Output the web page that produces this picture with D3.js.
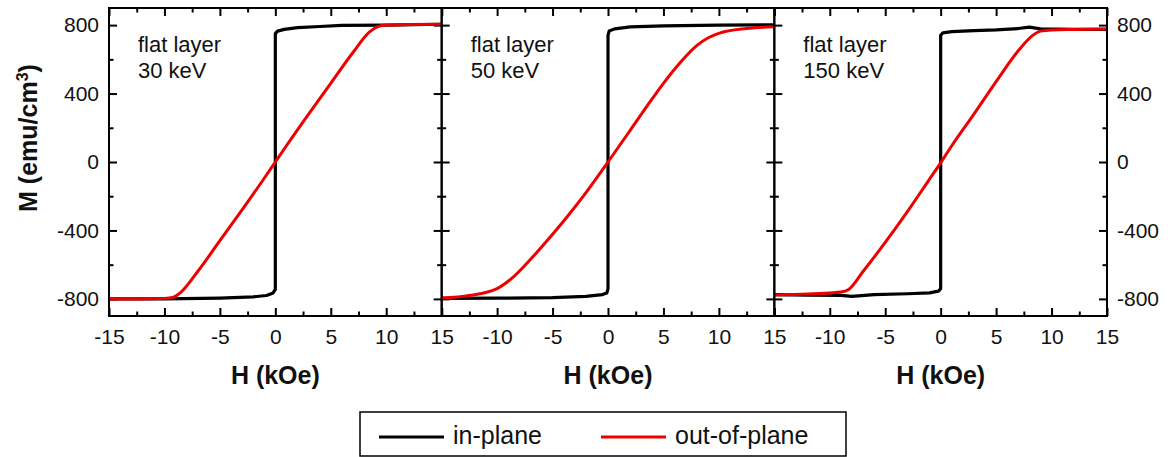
<!DOCTYPE html>
<html>
<head>
<meta charset="utf-8">
<script src="https://cdn.jsdelivr.net/npm/d3@7"></script>
<style>
  body { margin: 0; background: #fff; }
  svg { display: block; }
  text { font-family: Arial, 'Liberation Sans', sans-serif; fill: #111; }
</style>
</head>
<body>
<svg id="chart" width="1168" height="457"></svg>
<script>
// panel captions
const panelLabels = [['flat layer', '30 keV'], ['flat layer', '50 keV'], ['flat layer', '150 keV']];

// H (kOe), M (emu/cm3)
const inPlane30 = [[-15, -800], [-10, -800], [-5, -795], [-2, -788], [-0.8, -780], [-0.2, -765], [0, -745],
  [0, 750], [0.2, 765], [0.8, 775], [2, 785], [4, 792], [6, 798], [10, 800], [15, 805]];
const outPlane30 = [[-15, -800], [-12, -800], [-10, -797], [-9.2, -790], [-8.5, -760], [-7, -640], [-5, -460],
  [-3, -280], [-1, -95], [0, 0], [1, 95], [3, 280], [5, 460], [7, 640], [8.5, 760], [9.2, 790], [10, 800],
  [12, 803], [15, 805]];

const inPlane50 = [[-15, -797], [-10, -796], [-5, -793], [-2, -785], [-0.5, -775], [-0.1, -765], [0, -740],
  [0, 740], [0.1, 765], [0.6, 778], [2, 790], [5, 795], [10, 800], [15, 802]];
const outPlane50 = [[-15, -795], [-12.5, -780], [-10, -740], [-8.5, -670], [-7, -570], [-5.5, -460],
  [-3.5, -305], [-2, -180], [0, 0], [2, 185], [3.5, 325], [5, 460], [6.5, 580], [8, 680], [9, 725],
  [10, 752], [12.5, 780], [15, 790]];

const inPlane150 = [[-15, -775], [-12, -778], [-9, -780], [-8, -785], [-6, -775], [-3, -770], [-1, -765],
  [-0.2, -755], [0, -740], [0, 740], [0.2, 755], [1, 762], [3, 768], [5, 772], [7, 780], [8, 788],
  [9, 778], [12, 775], [15, 775]];
const outPlane150 = [[-15, -777], [-12, -772], [-10, -765], [-9, -760], [-8.3, -745], [-7, -640], [-5, -470],
  [-3, -290], [-1, -100], [0, -5], [1, 95], [3, 280], [5, 470], [7, 650], [8.3, 740], [9, 765],
  [10, 772], [12, 775], [15, 777]];

const inPlaneSets = [inPlane30, inPlane50, inPlane150];
const outPlaneSets = [outPlane30, outPlane50, outPlane150];

const xMajor = [-15, -10, -5, 0, 5, 10, 15];
const xMinor = [-12.5, -7.5, -2.5, 2.5, 7.5, 12.5];
const yMajor = [-800, -400, 0, 400, 800];
const yMinor = [-600, -200, 200, 600];

const legendItems = [{ name: 'in-plane', color: '#000' }, { name: 'out-of-plane', color: '#ee0000' }];

const plot = { left: 109, right: 1107, top: 8, bottom: 316 };
const panelW = (plot.right - plot.left) / 3;
const majorLen = 8;
const minorLen = 4.5;

const svg = d3.select('#chart');

const yScale = d3.scaleLinear()
  .domain([-900, 900])
  .range([plot.bottom, plot.top]);

panelLabels.forEach((lbl, i) => {
  const x0 = plot.left + i * panelW;
  const xScale = d3.scaleLinear()
    .domain([-15, 15])
    .range([x0, x0 + panelW]);

  const g = svg.append('g').attr('class', 'panel');

  // bottom axis with labels (the shared -15 is only written on the first panel)
  const gxb = g.append('g')
    .attr('transform', `translate(0,${plot.bottom})`)
    .call(d3.axisBottom(xScale).tickValues(xMajor).tickSize(-majorLen).tickPadding(13)
      .tickFormat(d => (i > 0 && d === -15 ? '' : String(d))));
  gxb.append('g')
    .call(d3.axisBottom(xScale).tickValues(xMinor).tickSize(-minorLen).tickFormat(''));
  // top axis, ticks only
  const gxt = g.append('g')
    .attr('transform', `translate(0,${plot.top})`)
    .call(d3.axisTop(xScale).tickValues(xMajor).tickSize(-majorLen).tickFormat(''));
  gxt.append('g')
    .call(d3.axisTop(xScale).tickValues(xMinor).tickSize(-minorLen).tickFormat(''));

  // left axis
  const gyl = g.append('g')
    .attr('transform', `translate(${x0},0)`)
    .call(d3.axisLeft(yScale).tickValues(yMajor).tickSize(-majorLen).tickPadding(10)
      .tickFormat(d => (i === 0 ? String(d) : '')));
  gyl.append('g')
    .call(d3.axisLeft(yScale).tickValues(yMinor).tickSize(-minorLen).tickFormat(''));
  // right axis
  const gyr = g.append('g')
    .attr('transform', `translate(${x0 + panelW},0)`)
    .call(d3.axisRight(yScale).tickValues(yMajor).tickSize(-majorLen).tickPadding(10)
      .tickFormat(d => (i === 2 ? String(d) : '')));
  gyr.append('g')
    .call(d3.axisRight(yScale).tickValues(yMinor).tickSize(-minorLen).tickFormat(''));

  g.selectAll('.domain').remove();
  g.selectAll('.tick line').attr('stroke', '#000').attr('stroke-width', 2);
  g.selectAll('.tick text')
    .style('font-size', '21px')
    .attr('fill', '#111');

  const line = d3.line()
    .x(d => xScale(d[0]))
    .y(d => yScale(d[1]));
  const smooth = d3.line()
    .curve(d3.curveMonotoneX)
    .x(d => xScale(d[0]))
    .y(d => yScale(d[1]));

  g.append('path')
    .datum(inPlaneSets[i])
    .attr('fill', 'none')
    .attr('stroke', '#000')
    .attr('stroke-width', 3.2)
    .attr('stroke-linejoin', 'round')
    .attr('d', line);

  g.append('path')
    .datum(outPlaneSets[i])
    .attr('fill', 'none')
    .attr('stroke', '#ee0000')
    .attr('stroke-width', 3)
    .attr('stroke-linejoin', 'round')
    .attr('d', smooth);

  // frame
  g.append('rect')
    .attr('x', x0)
    .attr('y', plot.top)
    .attr('width', panelW)
    .attr('height', plot.bottom - plot.top)
    .attr('fill', 'none')
    .attr('stroke', '#000')
    .attr('stroke-width', 2);

  const cap = g.append('text')
    .attr('x', x0 + 29)
    .attr('y', 52)
    .style('font-size', '22px');
  cap.append('tspan').attr('x', x0 + 29).text(lbl[0]);
  cap.append('tspan').attr('x', x0 + 29).attr('dy', 26).text(lbl[1]);

  g.append('text')
    .attr('x', (xScale.range()[0] + xScale.range()[1]) / 2)
    .attr('y', 384)
    .attr('text-anchor', 'middle')
    .style('font-size', '25px')
    .style('font-weight', 'bold')
    .text('H (kOe)');
});

// y title
const yTitle = svg.append('text')
  .attr('transform', 'translate(37,138) rotate(-90)')
  .attr('text-anchor', 'middle')
  .style('font-size', '25px')
  .style('font-weight', 'bold');
yTitle.append('tspan').text('M (emu/cm');
yTitle.append('tspan').attr('dy', -9).style('font-size', '16px').text('3');
yTitle.append('tspan').attr('dy', 9).text(')');

// legend
const lg = svg.append('g');
lg.append('rect')
  .attr('x', 360)
  .attr('y', 412)
  .attr('width', 486)
  .attr('height', 44)
  .attr('fill', '#fff')
  .attr('stroke', '#000')
  .attr('stroke-width', 1.5);
const legendX = [379, 601];
legendItems.forEach((d, i) => {
  lg.append('line')
    .attr('x1', legendX[i])
    .attr('x2', legendX[i] + 65)
    .attr('y1', 437)
    .attr('y2', 437)
    .attr('stroke', d.color)
    .attr('stroke-width', 3);
  lg.append('text')
    .attr('x', legendX[i] + 74)
    .attr('y', 444)
    .style('font-size', '25px')
    .text(d.name);
});
</script>
</body>
</html>
